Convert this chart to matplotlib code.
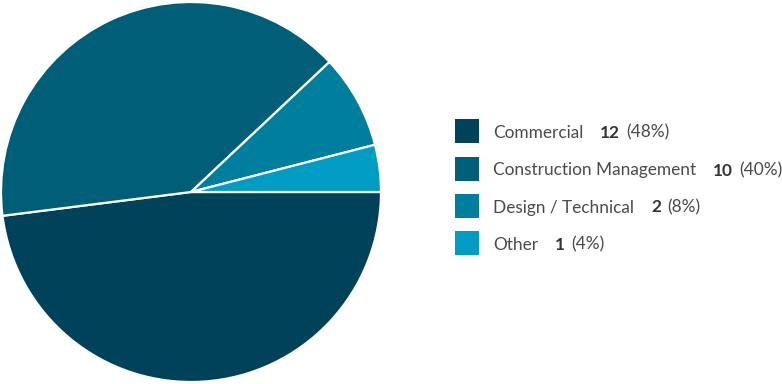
import matplotlib
matplotlib.use("Agg")
import matplotlib.pyplot as plt
from matplotlib.patches import Rectangle

categories = ["Commercial", "Construction Management", "Design / Technical", "Other"]
counts = [12, 10, 2, 1]
percents = ["48%", "40%", "8%", "4%"]
colors = ["#00425A", "#005E79", "#007E9E", "#009CC3"]

W, H = 782, 384
fig = plt.figure(figsize=(W / 100, H / 100), dpi=100)
fig.patch.set_facecolor("white")

cx, cy, r = 191, 192, 190
ax = fig.add_axes([(cx - r) / W, (H - cy - r) / H, 2 * r / W, 2 * r / H])
ax.pie(counts, colors=colors, startangle=0, counterclock=False, radius=1,
       wedgeprops=dict(edgecolor="white", linewidth=1.6))
ax.set_xlim(-1.0, 1.0)
ax.set_ylim(-1.0, 1.0)
ax.set_aspect("equal")
ax.axis("off")

# legend
fig.canvas.draw()
renderer = fig.canvas.get_renderer()
sq_x, sq_size = 455, 24
ys = [131, 169, 206, 243]
txt_color = "#4a4a4a"
fs = 12.4
for i, (cat, cnt, pct, col) in enumerate(zip(categories, counts, percents, colors)):
    yc = ys[i]
    fig.patches.append(Rectangle(((sq_x) / W, (H - yc - sq_size / 2) / H), sq_size / W, sq_size / H,
                                 transform=fig.transFigure, facecolor=col, edgecolor="none"))
    x = 493
    t1 = fig.text(x / W, (H - yc) / H, cat, fontsize=fs, family="Lato", color=txt_color, va="center_baseline")
    bb = t1.get_window_extent(renderer)
    x = bb.x1 + 17
    t2 = fig.text(x / W, (H - yc) / H, str(cnt), fontsize=fs, family="Lato", weight="bold", color="#333333", va="center_baseline")
    bb = t2.get_window_extent(renderer)
    x = bb.x1 + 6
    fig.text(x / W, (H - yc) / H, f"({pct})", fontsize=fs, family="Lato", color=txt_color, va="center_baseline")

fig.savefig("out.png", dpi=100, facecolor="white")
